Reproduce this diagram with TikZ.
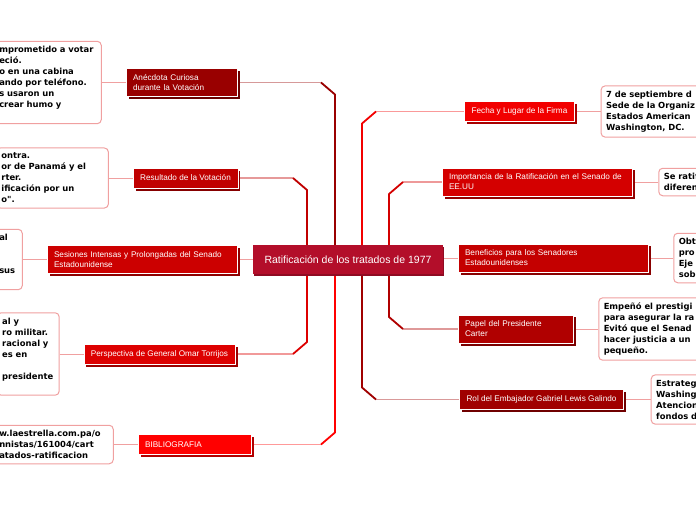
\documentclass[tikz,border=0pt]{standalone}
\usepackage{fontspec}
\setmainfont{Liberation Sans}
\newfontfamily\notefont{DejaVu Sans}
\usepackage{tikz}
\usetikzlibrary{positioning,calc,shadows,backgrounds}
\definecolor{rootred}{HTML}{B30E2A}
\definecolor{cAnec}{HTML}{990000}
\definecolor{cResult}{HTML}{C00000}
\definecolor{cSesion}{HTML}{CC0000}
\definecolor{cPersp}{HTML}{DD0000}
\definecolor{cBiblio}{HTML}{FF0000}
\definecolor{cFecha}{HTML}{F20000}
\definecolor{cImport}{HTML}{D40000}
\definecolor{cBenef}{HTML}{C40000}
\definecolor{cPapel}{HTML}{B00000}
\definecolor{cRol}{HTML}{A00000}
\definecolor{leafpink}{HTML}{F0A0A0}
\tikzset{
  rootbox/.style={
    fill=rootred,
    text=white,
    minimum width=190pt,
    minimum height=29pt,
    inner sep=0pt,
    font=\fontsize{10.5}{12}\selectfont,
    general shadow={fill=rootred!80!black, shadow xshift=1pt, shadow yshift=-1.5pt}
  },
  topicbox/.style={
    fill=#1,
    draw=white,
    line width=0.5pt,
    text=white,
    align=left,
    inner xsep=7pt,
    inner ysep=6pt,
    minimum height=20pt,
    font=\fontsize{8.2}{10}\selectfont,
    general shadow={fill=#1!70!black, shadow xshift=2.5pt, shadow yshift=-2.5pt}
  },
  notebox/.style={
    draw=leafpink,
    line width=1pt,
    rounded corners=4pt,
    fill=white,
    align=left,
    inner xsep=5pt,
    inner ysep=5pt,
    font=\notefont\bfseries\fontsize{8.4}{11}\selectfont
  },
  stem/.style={draw=#1, line width=1.8pt, line join=round},
  twig/.style={draw=#1!40!white, line width=1.2pt},
  leaf/.style={draw=leafpink, line width=1pt}
}

\begin{document}
\begin{tikzpicture}[x=1pt, y=-1pt, node distance=24pt]
\useasboundingbox (0,0) rectangle (696,520);
\clip (0,0) rectangle (696,520);

\node[rootbox] (root) at (348,259.5) {Ratificación de los tratados de 1977};

% left side
\node[topicbox=cAnec, text width=97pt] (anec) at (181.5,82.5) {Anécdota Curiosa\\durante la Votación};
\node[topicbox=cResult] (result) at (185.5,178) {Resultado de la Votación};
\node[topicbox=cSesion, text width=176pt] (sesion) at (142,259.5) {Sesiones Intensas y Prolongadas del Senado\\Estadounidense};
\node[topicbox=cPersp] (persp) at (159.5,354) {Perspectiva de General Omar Torrijos};
\node[topicbox=cBiblio, text width=99pt] (biblio) at (194.5,444.5) {BIBLIOGRAFIA};

% right side
\node[topicbox=cFecha] (fecha) at (519.5,111.5) {Fecha y Lugar de la Firma};
\node[topicbox=cImport, text width=176pt] (import) at (537,182) {Importancia de la Ratificación en el Senado de\\EE.UU};
\node[topicbox=cBenef, text width=176pt] (benef) at (553,258) {Beneficios para los Senadores\\Estadounidenses};
\node[topicbox=cPapel, text width=101pt] (papel) at (515.5,329) {Papel del Presidente\\Carter};
\node[topicbox=cRol] (rol) at (541.5,399.5) {Rol del Embajador Gabriel Lewis Galindo};

% notes
\node[notebox, left=of anec, text width=97pt] (anecN) {mprometido a votar\\eció.\\o en una cabina\\ando por teléfono.\\s usaron un\\crear humo y\\\mbox{}};
\node[notebox, left=of result, text width=102pt] (resultN) {ontra.\\or de Panamá y el\\rter.\\ificación por un\\o".};
\node[notebox, left=of sesion, text width=18pt] (sesionN) {al\\\mbox{}\\\mbox{}\\sus\\\mbox{}};
\node[notebox, left=of persp, text width=52pt] (perspN) {al y\\ro militar.\\racional y\\es en\\\mbox{}\\presidente\\\mbox{}};
\node[notebox, left=of biblio, text width=109pt] (biblioN) {w.laestrella.com.pa/o\\nnistas/161004/cart\\atados-ratificacion};
\node[notebox, right=26pt of fecha, text width=120pt] (fechaN) {7 de septiembre d\\Sede de la Organiz\\Estados American\\Washington, DC.};
\node[notebox, right=26pt of import, text width=120pt] (importN) {Se ratif\\diferen};
\node[notebox, right=25pt of benef, text width=120pt] (benefN) {Obt\\pro\\Eje\\sob};
\node[notebox, right=25pt of papel, text width=120pt] (papelN) {Empeñó el prestigi\\para asegurar la ra\\Evitó que el Senad\\hacer justicia a un\\pequeño.};
\node[notebox, right=27pt of rol, text width=120pt] (rolN) {Estrateg\\Washing\\Atencion\\fondos d};

\begin{scope}[on background layer]
\fill[white] (0,0) rectangle (696,520);
\coordinate (lvA) at (335,0);
\coordinate (lvB) at (307,0);
\coordinate (rvA) at (362,0);
\coordinate (rvB) at (389,0);
% trunk lines
\draw[twig=cAnec] ($(lvA |- anec)+(-14,0)$) -- (anec);
\draw[stem=cAnec] (lvA |- root) -- ($(lvA |- anec)+(0,12)$) -- ($(lvA |- anec)+(-14,0)$);
\draw[twig=cBiblio] ($(lvA |- biblio)+(-14,0)$) -- (biblio);
\draw[stem=cBiblio] (lvA |- root) -- ($(lvA |- biblio)+(0,-12)$) -- ($(lvA |- biblio)+(-14,0)$);
\draw[twig=cResult] ($(lvB |- result)+(-14,0)$) -- (result);
\draw[stem=cResult] (lvB |- root) -- ($(lvB |- result)+(0,12)$) -- ($(lvB |- result)+(-14,0)$);
\draw[twig=cPersp] ($(lvB |- persp)+(-14,0)$) -- (persp);
\draw[stem=cPersp] (lvB |- root) -- ($(lvB |- persp)+(0,-12)$) -- ($(lvB |- persp)+(-14,0)$);
\draw[leaf] (root) -- (sesion);
\draw[twig=cFecha] ($(rvA |- fecha)+(14,0)$) -- (fecha);
\draw[stem=cFecha] (rvA |- root) -- ($(rvA |- fecha)+(0,12)$) -- ($(rvA |- fecha)+(14,0)$);
\draw[twig=cRol] ($(rvA |- rol)+(14,0)$) -- (rol);
\draw[stem=cRol] (rvA |- root) -- ($(rvA |- rol)+(0,-12)$) -- ($(rvA |- rol)+(14,0)$);
\draw[twig=cImport] ($(rvB |- import)+(14,0)$) -- (import);
\draw[stem=cImport] (rvB |- root) -- ($(rvB |- import)+(0,12)$) -- ($(rvB |- import)+(14,0)$);
\draw[twig=cPapel] ($(rvB |- papel)+(14,0)$) -- (papel);
\draw[stem=cPapel] (rvB |- root) -- ($(rvB |- papel)+(0,-12)$) -- ($(rvB |- papel)+(14,0)$);
\draw[leaf] (root.east |- benef) -- (benef);
% note links
\draw[leaf] (anecN) -- (anec);
\draw[leaf] (resultN) -- (result);
\draw[leaf] (sesionN) -- (sesion);
\draw[leaf] (perspN) -- (persp);
\draw[leaf] (biblioN) -- (biblio);
\draw[leaf] (fecha) -- (fechaN);
\draw[leaf] (import) -- (importN);
\draw[leaf] (benef) -- (benefN);
\draw[leaf] (papel) -- (papelN);
\draw[leaf] (rol) -- (rolN);
\end{scope}
\end{tikzpicture}
\end{document}
